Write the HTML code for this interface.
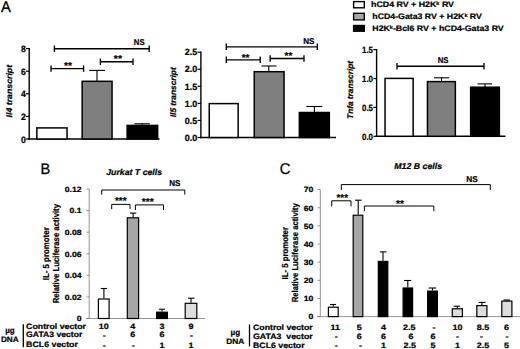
<!DOCTYPE html>
<html><head><meta charset="utf-8"><title>Figure</title>
<style>
html,body{margin:0;padding:0;background:#fff;}
body{width:520px;height:349px;overflow:hidden;font-family:"Liberation Sans",sans-serif;}
svg{display:block;}
svg text{font-family:"Liberation Sans",sans-serif;text-rendering:geometricPrecision;}
svg text[font-weight="bold"]{stroke:#000;stroke-width:0.22px;}
</style></head>
<body>
<svg width="520" height="349" viewBox="0 0 520 349">
<rect x="0" y="0" width="520" height="349" fill="#ffffff"/>
<text transform="translate(0.9,11.9) scale(0.95,1)" font-size="15.5" font-weight="normal" font-style="normal" text-anchor="start" fill="#000" stroke="#000" stroke-width="0.3">A</text>
<text transform="translate(40.4,174.0) scale(0.95,1)" font-size="15.3" font-weight="normal" font-style="normal" text-anchor="start" fill="#000" stroke="#000" stroke-width="0.3">B</text>
<text transform="translate(279.7,174.4) scale(0.95,1)" font-size="15.5" font-weight="normal" font-style="normal" text-anchor="start" fill="#000" stroke="#000" stroke-width="0.3">C</text>
<line x1="29.2" y1="48.0" x2="29.2" y2="139.7" stroke="#000" stroke-width="1.4"/>
<line x1="28.5" y1="139.0" x2="159.5" y2="139.0" stroke="#000" stroke-width="1.4"/>
<line x1="26" y1="48.6" x2="29.2" y2="48.6" stroke="#000" stroke-width="1.2"/>
<text transform="translate(25.7,52.2) scale(0.94,1)" font-size="9.2" font-weight="bold" font-style="normal" text-anchor="end" fill="#000" >8</text>
<line x1="26" y1="71.2" x2="29.2" y2="71.2" stroke="#000" stroke-width="1.2"/>
<text transform="translate(25.7,74.8) scale(0.94,1)" font-size="9.2" font-weight="bold" font-style="normal" text-anchor="end" fill="#000" >6</text>
<line x1="26" y1="93.80000000000001" x2="29.2" y2="93.80000000000001" stroke="#000" stroke-width="1.2"/>
<text transform="translate(25.7,97.4) scale(0.94,1)" font-size="9.2" font-weight="bold" font-style="normal" text-anchor="end" fill="#000" >4</text>
<line x1="26" y1="116.4" x2="29.2" y2="116.4" stroke="#000" stroke-width="1.2"/>
<text transform="translate(25.7,120.0) scale(0.94,1)" font-size="9.2" font-weight="bold" font-style="normal" text-anchor="end" fill="#000" >2</text>
<line x1="26" y1="139.0" x2="29.2" y2="139.0" stroke="#000" stroke-width="1.2"/>
<text transform="translate(25.7,142.6) scale(0.94,1)" font-size="9.2" font-weight="bold" font-style="normal" text-anchor="end" fill="#000" >0</text>
<rect x="36.85" y="127.9" width="30.199999999999996" height="11.099999999999994" fill="#fff" stroke="#000" stroke-width="1.5"/>
<rect x="82.15" y="81.3" width="29.89999999999999" height="57.7" fill="#7f7f7f" stroke="#000" stroke-width="1.5"/>
<rect x="127.15" y="125.4" width="30.5" height="13.599999999999994" fill="#000" stroke="#000" stroke-width="1.5"/>
<line x1="97" y1="81.1" x2="97" y2="70.4" stroke="#000" stroke-width="1.1"/>
<line x1="89.2" y1="70.4" x2="105" y2="70.4" stroke="#000" stroke-width="1.1"/>
<line x1="142.2" y1="125.2" x2="142.2" y2="123.8" stroke="#000" stroke-width="1.1"/>
<line x1="134.4" y1="123.8" x2="149.8" y2="123.8" stroke="#000" stroke-width="1.1"/>
<line x1="54.4" y1="48.7" x2="149.2" y2="48.7" stroke="#000" stroke-width="1.35"/>
<line x1="54.4" y1="45.5" x2="54.4" y2="51.900000000000006" stroke="#000" stroke-width="1.35"/>
<line x1="149.2" y1="45.5" x2="149.2" y2="51.900000000000006" stroke="#000" stroke-width="1.35"/>
<line x1="51" y1="68.6" x2="83.6" y2="68.6" stroke="#000" stroke-width="1.35"/>
<line x1="51" y1="65.39999999999999" x2="51" y2="71.8" stroke="#000" stroke-width="1.35"/>
<line x1="83.6" y1="65.39999999999999" x2="83.6" y2="71.8" stroke="#000" stroke-width="1.35"/>
<line x1="100.4" y1="61.7" x2="133" y2="61.7" stroke="#000" stroke-width="1.35"/>
<line x1="100.4" y1="58.5" x2="100.4" y2="64.9" stroke="#000" stroke-width="1.35"/>
<line x1="133" y1="58.5" x2="133" y2="64.9" stroke="#000" stroke-width="1.35"/>
<text x="133.8" y="44.5" font-size="8.5" font-weight="bold" font-style="normal" text-anchor="start" fill="#000" textLength="10.8" lengthAdjust="spacingAndGlyphs" >NS</text>
<text x="64" y="69.3" font-size="10" font-weight="bold" font-style="normal" text-anchor="start" fill="#000" textLength="8" lengthAdjust="spacingAndGlyphs" >**</text>
<text x="113.8" y="61.9" font-size="10" font-weight="bold" font-style="normal" text-anchor="start" fill="#000" textLength="8.2" lengthAdjust="spacingAndGlyphs" >**</text>
<text transform="translate(11.9,117.4) rotate(-90)" font-size="8.2" font-weight="bold" font-style="italic" textLength="52.5" lengthAdjust="spacingAndGlyphs">Il4 transcript</text>
<line x1="200.9" y1="51.6" x2="200.9" y2="138.2" stroke="#000" stroke-width="1.4"/>
<line x1="200.20000000000002" y1="137.5" x2="336" y2="137.5" stroke="#000" stroke-width="1.4"/>
<line x1="197.6" y1="52.2" x2="200.9" y2="52.2" stroke="#000" stroke-width="1.2"/>
<text x="197.2" y="55.400000000000006" font-size="9" font-weight="bold" font-style="normal" text-anchor="end" fill="#000" textLength="12.5" lengthAdjust="spacingAndGlyphs" >2.5</text>
<line x1="197.6" y1="69.26" x2="200.9" y2="69.26" stroke="#000" stroke-width="1.2"/>
<text x="197.2" y="72.46000000000001" font-size="9" font-weight="bold" font-style="normal" text-anchor="end" fill="#000" textLength="12.5" lengthAdjust="spacingAndGlyphs" >2.0</text>
<line x1="197.6" y1="86.32" x2="200.9" y2="86.32" stroke="#000" stroke-width="1.2"/>
<text x="197.2" y="89.52" font-size="9" font-weight="bold" font-style="normal" text-anchor="end" fill="#000" textLength="12.5" lengthAdjust="spacingAndGlyphs" >1.5</text>
<line x1="197.6" y1="103.38" x2="200.9" y2="103.38" stroke="#000" stroke-width="1.2"/>
<text x="197.2" y="106.58" font-size="9" font-weight="bold" font-style="normal" text-anchor="end" fill="#000" textLength="12.5" lengthAdjust="spacingAndGlyphs" >1.0</text>
<line x1="197.6" y1="120.44" x2="200.9" y2="120.44" stroke="#000" stroke-width="1.2"/>
<text x="197.2" y="123.64" font-size="9" font-weight="bold" font-style="normal" text-anchor="end" fill="#000" textLength="12.5" lengthAdjust="spacingAndGlyphs" >0.5</text>
<line x1="197.6" y1="137.5" x2="200.9" y2="137.5" stroke="#000" stroke-width="1.2"/>
<text x="197.2" y="140.7" font-size="9" font-weight="bold" font-style="normal" text-anchor="end" fill="#000" textLength="12.5" lengthAdjust="spacingAndGlyphs" >0.0</text>
<rect x="209.25" y="103.60000000000001" width="28.900000000000006" height="33.89999999999999" fill="#fff" stroke="#000" stroke-width="1.5"/>
<rect x="254.25" y="71.7" width="29.80000000000001" height="65.8" fill="#7f7f7f" stroke="#000" stroke-width="1.5"/>
<rect x="299.35" y="112.5" width="30.0" height="25.0" fill="#000" stroke="#000" stroke-width="1.5"/>
<line x1="268.8" y1="71.6" x2="268.8" y2="66" stroke="#000" stroke-width="1.1"/>
<line x1="261.5" y1="66" x2="276.5" y2="66" stroke="#000" stroke-width="1.1"/>
<line x1="314.4" y1="112.3" x2="314.4" y2="106.5" stroke="#000" stroke-width="1.1"/>
<line x1="306.3" y1="106.5" x2="322.3" y2="106.5" stroke="#000" stroke-width="1.1"/>
<line x1="226.3" y1="46.8" x2="317.3" y2="46.8" stroke="#000" stroke-width="1.35"/>
<line x1="226.3" y1="43.599999999999994" x2="226.3" y2="50.0" stroke="#000" stroke-width="1.35"/>
<line x1="317.3" y1="43.599999999999994" x2="317.3" y2="50.0" stroke="#000" stroke-width="1.35"/>
<line x1="226.3" y1="59.8" x2="260.2" y2="59.8" stroke="#000" stroke-width="1.35"/>
<line x1="226.3" y1="56.599999999999994" x2="226.3" y2="63.0" stroke="#000" stroke-width="1.35"/>
<line x1="260.2" y1="56.599999999999994" x2="260.2" y2="63.0" stroke="#000" stroke-width="1.35"/>
<line x1="270.2" y1="58.5" x2="304" y2="58.5" stroke="#000" stroke-width="1.35"/>
<line x1="270.2" y1="55.3" x2="270.2" y2="61.7" stroke="#000" stroke-width="1.35"/>
<line x1="304" y1="55.3" x2="304" y2="61.7" stroke="#000" stroke-width="1.35"/>
<text x="303.2" y="43.9" font-size="8.5" font-weight="bold" font-style="normal" text-anchor="start" fill="#000" textLength="11.2" lengthAdjust="spacingAndGlyphs" >NS</text>
<text x="241.7" y="61.3" font-size="10" font-weight="bold" font-style="normal" text-anchor="start" fill="#000" textLength="7.8" lengthAdjust="spacingAndGlyphs" >**</text>
<text x="284.6" y="59" font-size="10" font-weight="bold" font-style="normal" text-anchor="start" fill="#000" textLength="7.8" lengthAdjust="spacingAndGlyphs" >**</text>
<text transform="translate(175.8,117.2) rotate(-90)" font-size="8.2" font-weight="bold" font-style="italic" textLength="49.900000000000006" lengthAdjust="spacingAndGlyphs">Il5 transcript</text>
<line x1="376.6" y1="49.0" x2="376.6" y2="137.0" stroke="#000" stroke-width="1.4"/>
<line x1="375.90000000000003" y1="136.3" x2="505.5" y2="136.3" stroke="#000" stroke-width="1.4"/>
<line x1="373.4" y1="49.6" x2="376.6" y2="49.6" stroke="#000" stroke-width="1.2"/>
<text x="373" y="52.800000000000004" font-size="9" font-weight="bold" font-style="normal" text-anchor="end" fill="#000" textLength="11" lengthAdjust="spacingAndGlyphs" >1.5</text>
<line x1="373.4" y1="78.5" x2="376.6" y2="78.5" stroke="#000" stroke-width="1.2"/>
<text x="373" y="81.7" font-size="9" font-weight="bold" font-style="normal" text-anchor="end" fill="#000" textLength="11" lengthAdjust="spacingAndGlyphs" >1.0</text>
<line x1="373.4" y1="107.4" x2="376.6" y2="107.4" stroke="#000" stroke-width="1.2"/>
<text x="373" y="110.60000000000001" font-size="9" font-weight="bold" font-style="normal" text-anchor="end" fill="#000" textLength="11" lengthAdjust="spacingAndGlyphs" >0.5</text>
<line x1="373.4" y1="136.3" x2="376.6" y2="136.3" stroke="#000" stroke-width="1.2"/>
<text x="373" y="139.5" font-size="9" font-weight="bold" font-style="normal" text-anchor="end" fill="#000" textLength="11" lengthAdjust="spacingAndGlyphs" >0.0</text>
<rect x="385.05" y="78.4" width="28.099999999999966" height="57.900000000000006" fill="#fff" stroke="#000" stroke-width="1.5"/>
<rect x="427.45" y="81.60000000000001" width="27.900000000000034" height="54.7" fill="#7f7f7f" stroke="#000" stroke-width="1.5"/>
<rect x="470.65" y="87.2" width="28.700000000000045" height="49.10000000000001" fill="#000" stroke="#000" stroke-width="1.5"/>
<line x1="441.5" y1="81.4" x2="441.5" y2="77.8" stroke="#000" stroke-width="1.1"/>
<line x1="434" y1="77.8" x2="449" y2="77.8" stroke="#000" stroke-width="1.1"/>
<line x1="485" y1="87" x2="485" y2="83.9" stroke="#000" stroke-width="1.1"/>
<line x1="477.5" y1="83.9" x2="492" y2="83.9" stroke="#000" stroke-width="1.1"/>
<line x1="397" y1="66.2" x2="484" y2="66.2" stroke="#000" stroke-width="1.35"/>
<line x1="397" y1="63.0" x2="397" y2="69.4" stroke="#000" stroke-width="1.35"/>
<line x1="484" y1="63.0" x2="484" y2="69.4" stroke="#000" stroke-width="1.35"/>
<text x="437.7" y="63" font-size="8.5" font-weight="bold" font-style="normal" text-anchor="start" fill="#000" textLength="10.8" lengthAdjust="spacingAndGlyphs" >NS</text>
<text transform="translate(353.3,118.9) rotate(-90)" font-size="8.2" font-weight="bold" font-style="italic" textLength="57.900000000000006" lengthAdjust="spacingAndGlyphs">Tnfa transcript</text>
<rect x="353.59999999999997" y="1.6" width="10.700000000000045" height="6.199999999999999" fill="#fff" stroke="#000" stroke-width="1.4"/>
<rect x="353.59999999999997" y="13.299999999999999" width="10.700000000000045" height="6.6" fill="#a8a8a8" stroke="#000" stroke-width="1.4"/>
<rect x="353.59999999999997" y="25.5" width="10.700000000000045" height="5.699999999999999" fill="#000" stroke="#000" stroke-width="1.4"/>
<text x="371" y="7.4" font-size="8" font-weight="bold" font-style="normal" text-anchor="start" fill="#000" textLength="83" lengthAdjust="spacingAndGlyphs" >hCD4 RV + H2K<tspan dy="-2.1" font-size="5">k</tspan><tspan dy="2.1"> RV</tspan></text>
<text x="372.3" y="19.2" font-size="8" font-weight="bold" font-style="normal" text-anchor="start" fill="#000" textLength="109.6" lengthAdjust="spacingAndGlyphs" >hCD4-Gata3 RV + H2K<tspan dy="-2.1" font-size="5">k</tspan><tspan dy="2.1"> RV</tspan></text>
<text x="372.3" y="30.8" font-size="8" font-weight="bold" font-style="normal" text-anchor="start" fill="#000" textLength="131.4" lengthAdjust="spacingAndGlyphs" >H2K<tspan dy="-2.1" font-size="5">k</tspan><tspan dy="2.1">-Bcl6 RV + hCD4-Gata3 RV</tspan></text>
<line x1="89.2" y1="189.0" x2="89.2" y2="318.5" stroke="#7a7a7a" stroke-width="0.8"/>
<line x1="86" y1="318.5" x2="205" y2="318.5" stroke="#7a7a7a" stroke-width="0.8"/>
<line x1="86.6" y1="189.0" x2="89.2" y2="189.0" stroke="#7a7a7a" stroke-width="0.8"/>
<text transform="translate(81.6,191.8) scale(1.14,1)" font-size="7.6" font-weight="bold" font-style="normal" text-anchor="end" fill="#000" >0.12</text>
<line x1="86.6" y1="210.58333333333334" x2="89.2" y2="210.58333333333334" stroke="#7a7a7a" stroke-width="0.8"/>
<text transform="translate(81.6,213.38333333333335) scale(1.14,1)" font-size="7.6" font-weight="bold" font-style="normal" text-anchor="end" fill="#000" >0.1</text>
<line x1="86.6" y1="232.16666666666666" x2="89.2" y2="232.16666666666666" stroke="#7a7a7a" stroke-width="0.8"/>
<text transform="translate(81.6,234.96666666666667) scale(1.14,1)" font-size="7.6" font-weight="bold" font-style="normal" text-anchor="end" fill="#000" >0.08</text>
<line x1="86.6" y1="253.75" x2="89.2" y2="253.75" stroke="#7a7a7a" stroke-width="0.8"/>
<text transform="translate(81.6,256.55) scale(1.14,1)" font-size="7.6" font-weight="bold" font-style="normal" text-anchor="end" fill="#000" >0.06</text>
<line x1="86.6" y1="275.3333333333333" x2="89.2" y2="275.3333333333333" stroke="#7a7a7a" stroke-width="0.8"/>
<text transform="translate(81.6,278.1333333333333) scale(1.14,1)" font-size="7.6" font-weight="bold" font-style="normal" text-anchor="end" fill="#000" >0.04</text>
<line x1="86.6" y1="296.9166666666667" x2="89.2" y2="296.9166666666667" stroke="#7a7a7a" stroke-width="0.8"/>
<text transform="translate(81.6,299.7166666666667) scale(1.14,1)" font-size="7.6" font-weight="bold" font-style="normal" text-anchor="end" fill="#000" >0.02</text>
<line x1="86.6" y1="318.5" x2="89.2" y2="318.5" stroke="#7a7a7a" stroke-width="0.8"/>
<text transform="translate(81.6,321.3) scale(1.14,1)" font-size="7.6" font-weight="bold" font-style="normal" text-anchor="end" fill="#000" >0</text>
<rect x="98.39999999999999" y="299.0" width="10.700000000000017" height="19.5" fill="#fff" stroke="#000" stroke-width="1.2"/>
<rect x="127.3" y="217.79999999999998" width="11.299999999999997" height="100.70000000000002" fill="#a6a6a6" stroke="#000" stroke-width="1.2"/>
<rect x="156.6" y="312.20000000000005" width="10.800000000000011" height="6.2999999999999545" fill="#000" stroke="#000" stroke-width="1.2"/>
<rect x="185.2" y="303.3" width="11.600000000000023" height="15.199999999999989" fill="#dcdcdc" stroke="#000" stroke-width="1.2"/>
<line x1="103.9" y1="298.4" x2="103.9" y2="288.5" stroke="#000" stroke-width="1.1"/>
<line x1="100.8" y1="288.5" x2="107" y2="288.5" stroke="#000" stroke-width="1.1"/>
<line x1="133.1" y1="217.2" x2="133.1" y2="213.1" stroke="#000" stroke-width="1.1"/>
<line x1="130" y1="213.1" x2="136.3" y2="213.1" stroke="#000" stroke-width="1.1"/>
<line x1="162" y1="311.6" x2="162" y2="309.2" stroke="#000" stroke-width="1.1"/>
<line x1="159" y1="309.2" x2="165" y2="309.2" stroke="#000" stroke-width="1.1"/>
<line x1="191" y1="302.7" x2="191" y2="298.2" stroke="#000" stroke-width="1.1"/>
<line x1="188" y1="298.2" x2="194.5" y2="298.2" stroke="#000" stroke-width="1.1"/>
<polyline points="101.7,194.6 101.7,190.0 184.8,190.0 184.8,194.6" fill="none" stroke="#000" stroke-width="1.0"/>
<polyline points="111.7,209.0 111.7,204.4 130,204.4 130,209.0" fill="none" stroke="#000" stroke-width="1.0"/>
<polyline points="135.4,210.0 135.4,204.9 163.5,204.9 163.5,210.0" fill="none" stroke="#000" stroke-width="1.0"/>
<text x="106.2" y="174.8" font-size="8.5" font-weight="bold" font-style="italic" text-anchor="start" fill="#000" textLength="55.9" lengthAdjust="spacingAndGlyphs" >Jurkat T cells</text>
<text x="169.2" y="185.9" font-size="8.5" font-weight="bold" font-style="normal" text-anchor="start" fill="#000" textLength="11.2" lengthAdjust="spacingAndGlyphs" >NS</text>
<text x="115" y="203.8" font-size="10" font-weight="bold" font-style="normal" text-anchor="start" fill="#000" textLength="11.5" lengthAdjust="spacingAndGlyphs" >***</text>
<text x="141.8" y="205.1" font-size="10" font-weight="bold" font-style="normal" text-anchor="start" fill="#000" textLength="12" lengthAdjust="spacingAndGlyphs" >***</text>
<text transform="translate(48.7,280.3) rotate(-90)" font-size="8.7" font-weight="bold" font-style="normal" textLength="53.0" lengthAdjust="spacingAndGlyphs">IL- 5 promoter</text>
<text transform="translate(58.7,303.3) rotate(-90)" font-size="8.7" font-weight="bold" font-style="normal" textLength="99.30000000000001" lengthAdjust="spacingAndGlyphs">Relative Luciferase activity</text>
<line x1="23.3" y1="324.2" x2="23.3" y2="347.3" stroke="#000" stroke-width="1.3"/>
<text x="26.1" y="329.0" font-size="7.9" font-weight="bold" font-style="normal" text-anchor="start" fill="#000" textLength="59.9" lengthAdjust="spacingAndGlyphs" >Control vector</text>
<text x="26.1" y="337.2" font-size="7.9" font-weight="bold" font-style="normal" text-anchor="start" fill="#000" textLength="56.2" lengthAdjust="spacingAndGlyphs" >GATA3 vector</text>
<text x="26.1" y="346.8" font-size="7.9" font-weight="bold" font-style="normal" text-anchor="start" fill="#000" textLength="51.8" lengthAdjust="spacingAndGlyphs" >BCL6 vector</text>
<text x="5.2" y="333.0" font-size="8" font-weight="bold" font-style="normal" text-anchor="start" fill="#000" textLength="9.5" lengthAdjust="spacingAndGlyphs" >µg</text>
<text x="0.9" y="342.1" font-size="8" font-weight="bold" font-style="normal" text-anchor="start" fill="#000" textLength="17.8" lengthAdjust="spacingAndGlyphs" >DNA</text>
<text transform="translate(103.8,329.0) scale(1.15,1)" font-size="7.8" font-weight="bold" font-style="normal" text-anchor="middle" fill="#000" >10</text>
<text transform="translate(132.8,329.0) scale(1.15,1)" font-size="7.8" font-weight="bold" font-style="normal" text-anchor="middle" fill="#000" >4</text>
<text transform="translate(162,329.0) scale(1.15,1)" font-size="7.8" font-weight="bold" font-style="normal" text-anchor="middle" fill="#000" >3</text>
<text transform="translate(191,329.0) scale(1.15,1)" font-size="7.8" font-weight="bold" font-style="normal" text-anchor="middle" fill="#000" >9</text>
<text transform="translate(104.3,338.29999999999995) scale(1.15,1)" font-size="7.8" font-weight="bold" font-style="normal" text-anchor="middle" fill="#000" >-</text>
<text transform="translate(132.8,337.4) scale(1.15,1)" font-size="7.8" font-weight="bold" font-style="normal" text-anchor="middle" fill="#000" >6</text>
<text transform="translate(162,337.4) scale(1.15,1)" font-size="7.8" font-weight="bold" font-style="normal" text-anchor="middle" fill="#000" >6</text>
<text transform="translate(191.5,338.29999999999995) scale(1.15,1)" font-size="7.8" font-weight="bold" font-style="normal" text-anchor="middle" fill="#000" >-</text>
<text transform="translate(104.3,347.6) scale(1.15,1)" font-size="7.8" font-weight="bold" font-style="normal" text-anchor="middle" fill="#000" >-</text>
<text transform="translate(133.3,347.6) scale(1.15,1)" font-size="7.8" font-weight="bold" font-style="normal" text-anchor="middle" fill="#000" >-</text>
<text transform="translate(162,347.6) scale(1.15,1)" font-size="7.8" font-weight="bold" font-style="normal" text-anchor="middle" fill="#000" >1</text>
<text transform="translate(191,347.6) scale(1.15,1)" font-size="7.8" font-weight="bold" font-style="normal" text-anchor="middle" fill="#000" >1</text>
<line x1="320.3" y1="189.6" x2="320.3" y2="316.6" stroke="#7a7a7a" stroke-width="0.8"/>
<line x1="317" y1="316.6" x2="520" y2="316.6" stroke="#7a7a7a" stroke-width="0.8"/>
<line x1="317.6" y1="189.6" x2="320.3" y2="189.6" stroke="#7a7a7a" stroke-width="0.8"/>
<text transform="translate(313.3,192.4) scale(1.14,1)" font-size="7.6" font-weight="bold" font-style="normal" text-anchor="end" fill="#000" >70</text>
<line x1="317.6" y1="207.74285714285713" x2="320.3" y2="207.74285714285713" stroke="#7a7a7a" stroke-width="0.8"/>
<text transform="translate(313.3,210.54285714285714) scale(1.14,1)" font-size="7.6" font-weight="bold" font-style="normal" text-anchor="end" fill="#000" >60</text>
<line x1="317.6" y1="225.8857142857143" x2="320.3" y2="225.8857142857143" stroke="#7a7a7a" stroke-width="0.8"/>
<text transform="translate(313.3,228.6857142857143) scale(1.14,1)" font-size="7.6" font-weight="bold" font-style="normal" text-anchor="end" fill="#000" >50</text>
<line x1="317.6" y1="244.02857142857144" x2="320.3" y2="244.02857142857144" stroke="#7a7a7a" stroke-width="0.8"/>
<text transform="translate(313.3,246.82857142857145) scale(1.14,1)" font-size="7.6" font-weight="bold" font-style="normal" text-anchor="end" fill="#000" >40</text>
<line x1="317.6" y1="262.1714285714286" x2="320.3" y2="262.1714285714286" stroke="#7a7a7a" stroke-width="0.8"/>
<text transform="translate(313.3,264.9714285714286) scale(1.14,1)" font-size="7.6" font-weight="bold" font-style="normal" text-anchor="end" fill="#000" >30</text>
<line x1="317.6" y1="280.31428571428575" x2="320.3" y2="280.31428571428575" stroke="#7a7a7a" stroke-width="0.8"/>
<text transform="translate(313.3,283.11428571428576) scale(1.14,1)" font-size="7.6" font-weight="bold" font-style="normal" text-anchor="end" fill="#000" >20</text>
<line x1="317.6" y1="298.4571428571429" x2="320.3" y2="298.4571428571429" stroke="#7a7a7a" stroke-width="0.8"/>
<text transform="translate(313.3,301.2571428571429) scale(1.14,1)" font-size="7.6" font-weight="bold" font-style="normal" text-anchor="end" fill="#000" >10</text>
<line x1="317.6" y1="316.6" x2="320.3" y2="316.6" stroke="#7a7a7a" stroke-width="0.8"/>
<text transform="translate(313.3,319.40000000000003) scale(1.14,1)" font-size="7.6" font-weight="bold" font-style="normal" text-anchor="end" fill="#000" >0</text>
<rect x="328.40000000000003" y="307.20000000000005" width="9.799999999999955" height="9.399999999999977" fill="#fff" stroke="#000" stroke-width="1.2"/>
<rect x="353.20000000000005" y="215.2" width="9.599999999999909" height="101.40000000000003" fill="#a6a6a6" stroke="#000" stroke-width="1.2"/>
<rect x="378.3" y="261.40000000000003" width="9.499999999999943" height="55.19999999999999" fill="#000" stroke="#000" stroke-width="1.2"/>
<rect x="403.1" y="288.0" width="9.499999999999943" height="28.600000000000023" fill="#000" stroke="#000" stroke-width="1.2"/>
<rect x="427.6" y="291.1" width="9.799999999999955" height="25.5" fill="#000" stroke="#000" stroke-width="1.2"/>
<rect x="452.3" y="308.8" width="10.099999999999966" height="7.800000000000011" fill="#dcdcdc" stroke="#000" stroke-width="1.2"/>
<rect x="476.8" y="305.6" width="10.099999999999966" height="11.0" fill="#dcdcdc" stroke="#000" stroke-width="1.2"/>
<rect x="501.8" y="301.1" width="10.099999999999966" height="15.5" fill="#dcdcdc" stroke="#000" stroke-width="1.2"/>
<line x1="333.3" y1="306.6" x2="333.3" y2="304.5" stroke="#000" stroke-width="1.1"/>
<line x1="330" y1="304.5" x2="336" y2="304.5" stroke="#000" stroke-width="1.1"/>
<line x1="358.2" y1="214.6" x2="358.2" y2="200.2" stroke="#000" stroke-width="1.1"/>
<line x1="355.1" y1="200.2" x2="361.6" y2="200.2" stroke="#000" stroke-width="1.1"/>
<line x1="383" y1="260.8" x2="383" y2="251.9" stroke="#000" stroke-width="1.1"/>
<line x1="379.8" y1="251.9" x2="386.5" y2="251.9" stroke="#000" stroke-width="1.1"/>
<line x1="407.8" y1="287.4" x2="407.8" y2="280.5" stroke="#000" stroke-width="1.1"/>
<line x1="404" y1="280.5" x2="411.2" y2="280.5" stroke="#000" stroke-width="1.1"/>
<line x1="432.5" y1="290.5" x2="432.5" y2="288" stroke="#000" stroke-width="1.1"/>
<line x1="428.7" y1="288" x2="436.2" y2="288" stroke="#000" stroke-width="1.1"/>
<line x1="457.3" y1="308.2" x2="457.3" y2="306.2" stroke="#000" stroke-width="1.1"/>
<line x1="453.7" y1="306.2" x2="460" y2="306.2" stroke="#000" stroke-width="1.1"/>
<line x1="481.9" y1="305" x2="481.9" y2="302.4" stroke="#000" stroke-width="1.1"/>
<line x1="478.7" y1="302.4" x2="485.5" y2="302.4" stroke="#000" stroke-width="1.1"/>
<line x1="506.8" y1="300.5" x2="506.8" y2="300" stroke="#000" stroke-width="1.1"/>
<line x1="503.5" y1="300" x2="510" y2="300" stroke="#000" stroke-width="1.1"/>
<polyline points="341.3,190.0 341.3,184.6 490.3,184.6 490.3,190.0" fill="none" stroke="#000" stroke-width="1.0"/>
<polyline points="331.7,206.4 331.7,200.8 351,200.8 351,206.4" fill="none" stroke="#000" stroke-width="1.0"/>
<polyline points="364.4,211.2 364.4,206.0 433.8,206.0 433.8,211.2" fill="none" stroke="#000" stroke-width="1.0"/>
<text x="394.3" y="169.1" font-size="8.5" font-weight="bold" font-style="italic" text-anchor="start" fill="#000" textLength="47.8" lengthAdjust="spacingAndGlyphs" >M12 B cells</text>
<text x="466.3" y="182" font-size="8.5" font-weight="bold" font-style="normal" text-anchor="start" fill="#000" textLength="11.5" lengthAdjust="spacingAndGlyphs" >NS</text>
<text x="336.5" y="200.8" font-size="10" font-weight="bold" font-style="normal" text-anchor="start" fill="#000" textLength="11.5" lengthAdjust="spacingAndGlyphs" >***</text>
<text x="396" y="206.8" font-size="10" font-weight="bold" font-style="normal" text-anchor="start" fill="#000" textLength="7.8" lengthAdjust="spacingAndGlyphs" >**</text>
<text transform="translate(287.6,279.5) rotate(-90)" font-size="8.7" font-weight="bold" font-style="normal" textLength="52.5" lengthAdjust="spacingAndGlyphs">IL- 5 promoter</text>
<text transform="translate(297.6,302.3) rotate(-90)" font-size="8.7" font-weight="bold" font-style="normal" textLength="99.0" lengthAdjust="spacingAndGlyphs">Relative Luciferase activity</text>
<line x1="249.5" y1="324.5" x2="249.5" y2="346.4" stroke="#000" stroke-width="1.3"/>
<text x="253" y="329.8" font-size="7.9" font-weight="bold" font-style="normal" text-anchor="start" fill="#000" textLength="59.7" lengthAdjust="spacingAndGlyphs" >Control vector</text>
<text x="253" y="338.5" font-size="7.9" font-weight="bold" font-style="normal" text-anchor="start" fill="#000" textLength="59.7" lengthAdjust="spacingAndGlyphs" >GATA3&#160; vector</text>
<text x="253" y="347.7" font-size="7.9" font-weight="bold" font-style="normal" text-anchor="start" fill="#000" textLength="51.6" lengthAdjust="spacingAndGlyphs" >BCL6 vector</text>
<text x="230.6" y="335.4" font-size="8" font-weight="bold" font-style="normal" text-anchor="start" fill="#000" textLength="9.6" lengthAdjust="spacingAndGlyphs" >µg</text>
<text x="226.2" y="343.8" font-size="8" font-weight="bold" font-style="normal" text-anchor="start" fill="#000" textLength="18.2" lengthAdjust="spacingAndGlyphs" >DNA</text>
<text transform="translate(335.2,329.8) scale(1.15,1)" font-size="7.8" font-weight="bold" font-style="normal" text-anchor="middle" fill="#000" >11</text>
<text transform="translate(359.2,329.8) scale(1.15,1)" font-size="7.8" font-weight="bold" font-style="normal" text-anchor="middle" fill="#000" >5</text>
<text transform="translate(383.6,329.8) scale(1.15,1)" font-size="7.8" font-weight="bold" font-style="normal" text-anchor="middle" fill="#000" >4</text>
<text transform="translate(409.3,329.8) scale(1.15,1)" font-size="7.8" font-weight="bold" font-style="normal" text-anchor="middle" fill="#000" >2.5</text>
<text transform="translate(433.9,329.8) scale(1.15,1)" font-size="7.8" font-weight="bold" font-style="normal" text-anchor="middle" fill="#000" >-</text>
<text transform="translate(457.5,329.8) scale(1.15,1)" font-size="7.8" font-weight="bold" font-style="normal" text-anchor="middle" fill="#000" >10</text>
<text transform="translate(483.1,329.8) scale(1.15,1)" font-size="7.8" font-weight="bold" font-style="normal" text-anchor="middle" fill="#000" >8.5</text>
<text transform="translate(506.4,329.8) scale(1.15,1)" font-size="7.8" font-weight="bold" font-style="normal" text-anchor="middle" fill="#000" >6</text>
<text transform="translate(336.3,338.7) scale(1.15,1)" font-size="7.8" font-weight="bold" font-style="normal" text-anchor="middle" fill="#000" >-</text>
<text transform="translate(359.2,338.7) scale(1.15,1)" font-size="7.8" font-weight="bold" font-style="normal" text-anchor="middle" fill="#000" >6</text>
<text transform="translate(383.6,338.7) scale(1.15,1)" font-size="7.8" font-weight="bold" font-style="normal" text-anchor="middle" fill="#000" >6</text>
<text transform="translate(411.0,338.7) scale(1.15,1)" font-size="7.8" font-weight="bold" font-style="normal" text-anchor="middle" fill="#000" >6</text>
<text transform="translate(433,338.7) scale(1.15,1)" font-size="7.8" font-weight="bold" font-style="normal" text-anchor="middle" fill="#000" >6</text>
<text transform="translate(457.5,338.7) scale(1.15,1)" font-size="7.8" font-weight="bold" font-style="normal" text-anchor="middle" fill="#000" >-</text>
<text transform="translate(481.6,338.7) scale(1.15,1)" font-size="7.8" font-weight="bold" font-style="normal" text-anchor="middle" fill="#000" >-</text>
<text transform="translate(507.0,338.7) scale(1.15,1)" font-size="7.8" font-weight="bold" font-style="normal" text-anchor="middle" fill="#000" >-</text>
<text transform="translate(336.3,348.0) scale(1.15,1)" font-size="7.8" font-weight="bold" font-style="normal" text-anchor="middle" fill="#000" >-</text>
<text transform="translate(360.4,348.0) scale(1.15,1)" font-size="7.8" font-weight="bold" font-style="normal" text-anchor="middle" fill="#000" >-</text>
<text transform="translate(383.6,348.0) scale(1.15,1)" font-size="7.8" font-weight="bold" font-style="normal" text-anchor="middle" fill="#000" >1</text>
<text transform="translate(409.8,348.0) scale(1.15,1)" font-size="7.8" font-weight="bold" font-style="normal" text-anchor="middle" fill="#000" >2.5</text>
<text transform="translate(433,348.0) scale(1.15,1)" font-size="7.8" font-weight="bold" font-style="normal" text-anchor="middle" fill="#000" >5</text>
<text transform="translate(457.5,348.0) scale(1.15,1)" font-size="7.8" font-weight="bold" font-style="normal" text-anchor="middle" fill="#000" >1</text>
<text transform="translate(483.1,348.0) scale(1.15,1)" font-size="7.8" font-weight="bold" font-style="normal" text-anchor="middle" fill="#000" >2.5</text>
<text transform="translate(506.4,348.0) scale(1.15,1)" font-size="7.8" font-weight="bold" font-style="normal" text-anchor="middle" fill="#000" >5</text>
</svg>
</body></html>
